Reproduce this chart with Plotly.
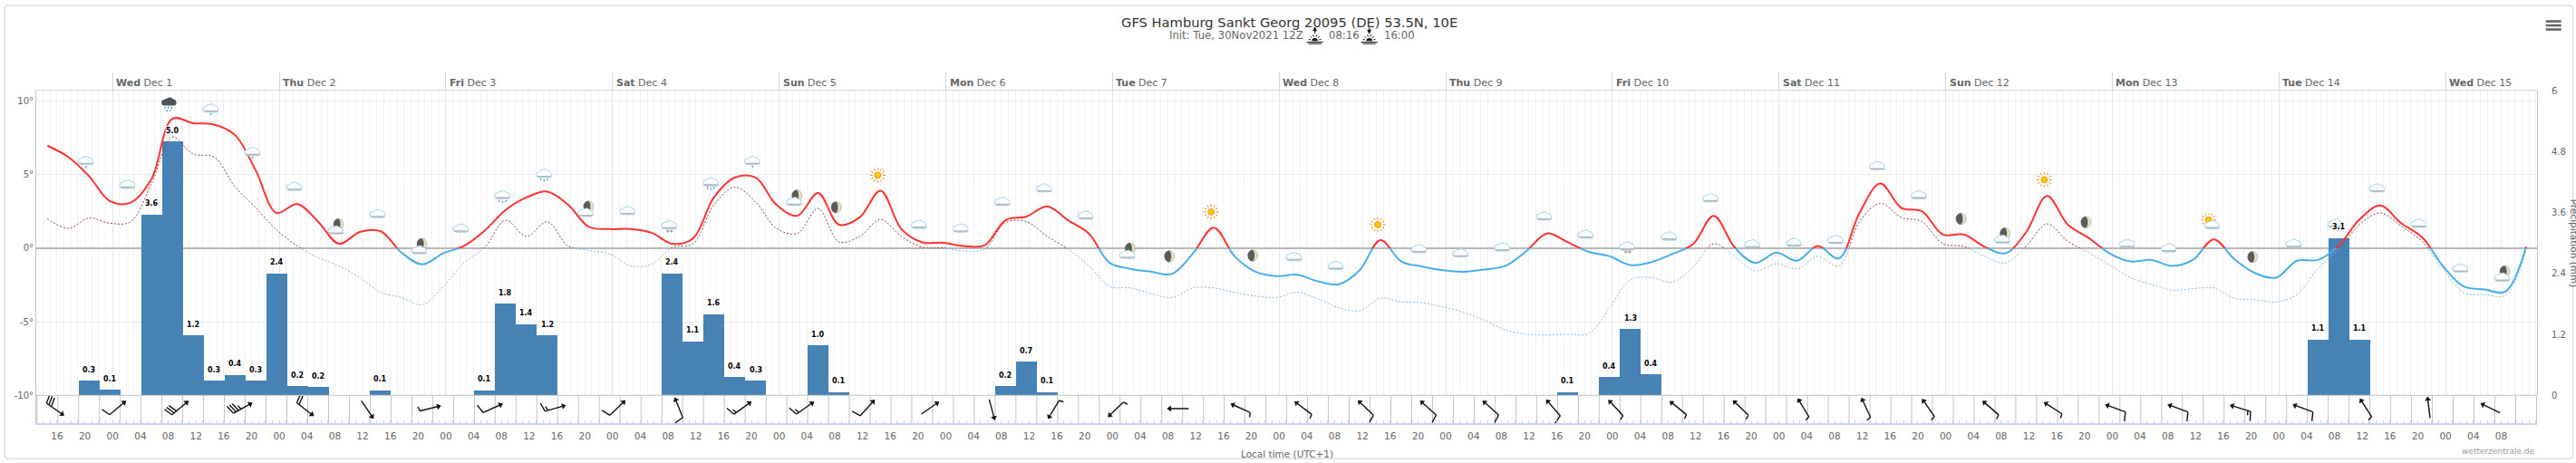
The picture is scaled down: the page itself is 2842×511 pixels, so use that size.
import base64
import math
import plotly.graph_objects as go

W, H = 2842, 511
FONT = "DejaVu Sans"

# temperature and dew point, one value every 3 hours (degrees C)
temp_c = [6.97, 6.2, 4.9, 3.2, 3.1, 4.7, 8.8, 8.5, 8.4, 7.7,
          5.3, 2.4, 3.0, 1.8, 0.3, 1.1, 1.15, -0.3, -1.1, -0.35,
          0.15, 1.2, 2.6, 3.45, 3.85, 2.95, 1.45, 1.3, 1.3, 1.05,
          0.3, 0.68, 3.45, 4.8, 4.8, 2.95, 2.2, 3.75, 1.6, 2.1,
          3.9, 1.3, 0.4, 0.37, 0.15, 0.2, 1.9, 2.15, 2.85, 1.9,
          1.0, -1.0, -1.4, -1.6, -1.75, -0.35, 1.4, -0.55, -1.6, -1.9,
          -1.8, -2.25, -2.45, -1.5, 0.55, -0.9, -1.25, -1.5, -1.6, -1.45,
          -1.2, -0.2, 1.0, 0.4, -0.25, -0.55, -1.15, -0.95, -0.4, 0.27,
          2.2, 0.06, -1.0, -0.3, -0.85, 0.15, -0.7, 2.4, 4.4, 2.75,
          2.5, 0.93, 0.93, 0.1, -0.35, 1.1, 3.55, 1.6, 0.7, -0.35,
          -0.9, -0.8, -1.2, -0.8, 0.6, -0.75, -1.7, -2.0, -0.85, -0.8,
          0.17, 1.95, 2.9, 1.7, 0.75, -1.2, -2.6, -2.8, -2.95, 0.1]
dew_c = [2.0, 1.35, 2.05, 1.7, 1.8, 4.4, 7.55, 6.4, 6.2, 4.2,
         2.75, 1.25, 0.15, -0.65, -1.2, -2.0, -3.0, -3.35, -3.85, -2.6,
         -1.0, 0.06, 1.9, 0.8, 1.8, 0.15, -0.15, -0.4, -1.2, -1.1,
         0.06, 0.3, 2.95, 4.15, 3.15, 1.35, 1.0, 2.7, 0.43, 0.8,
         1.95, 0.8, 0.06, 0.02, -0.2, -0.05, 1.75, 1.8, 0.8, -0.05,
         -1.2, -2.6, -2.7, -3.1, -3.35, -2.7, -2.7, -3.0, -3.25, -3.35,
         -3.0, -3.45, -4.05, -4.25, -3.4, -3.65, -3.7, -4.0, -4.35, -4.9,
         -5.55, -5.85, -5.9, -5.85, -5.8, -4.05, -2.15, -2.0, -2.3, -1.3,
         0.3, -0.55, -1.55, -1.05, -1.4, -0.55, -1.2, 1.8, 3.05, 2.1,
         1.8, 0.3, 0.12, -0.55, -1.0, 0.15, 1.65, 0.47, -0.3, -1.15,
         -2.0, -2.45, -2.85, -2.75, -2.7, -3.4, -3.5, -3.65, -3.15, -1.4,
         -0.05, 1.6, 2.4, 1.5, 0.47, -1.4, -3.0, -3.15, -3.2, -0.25]

# precipitation bars: hours since Dec 1 00:00 and mm
precip_hours = [-3.4, -0.4, 5.6, 8.6, 11.6, 14.6, 17.6, 20.6, 23.6, 26.6, 29.6, 38.6,
                53.6, 56.6, 59.6, 62.6, 80.6, 83.6, 86.6, 89.6, 92.6, 101.6, 104.6,
                128.6, 131.6, 134.6, 209.6, 215.6, 218.6, 221.6, 317.6, 320.6, 323.6]
precip_mm = [0.29, 0.11, 3.56, 5.0, 1.18, 0.29, 0.4, 0.29, 2.4, 0.18, 0.16, 0.1,
             0.1, 1.8, 1.4, 1.18, 2.4, 1.06, 1.6, 0.36, 0.29, 0.98, 0.06,
             0.18, 0.66, 0.06, 0.06, 0.36, 1.3, 0.41, 1.1, 3.1, 1.1]

# wind barbs every 9 hours: direction the wind comes from (deg), speed (kt)
wind_from = [305, 230, 230, 241, 308, 326, 256, 246, 254, 226,
             158, 234, 235, 222, 235, 345, 31, 46, 90, 114,
             127, 134, 132, 132, 139, 137, 129, 134, 149, 155,
             145, 131, 123, 110, 110, 107, 110, 147, 173, 116]
wind_kt = [30, 10, 30, 35, 20, 3, 5, 10, 15, 10,
           10, 15, 15, 10, 3, 3, 5, 5, 3, 5,
           5, 10, 10, 10, 10, 5, 5, 5, 5, 5,
           5, 5, 5, 10, 10, 15, 10, 5, 3, 3]

# weather symbols, one every 6 hours
icon_kind = ["rain1", "cloud", "heavy", "rain1", "rain1", "cloud", "mooncloud", "cloud", "mooncloud", "cloud",
             "rain2", "rain2", "mooncloud", "cloud", "snow", "rain2", "rain1", "mooncloud", "moon", "sun",
             "cloud", "cloud", "cloud", "cloud", "cloud", "mooncloud", "moon", "sun", "moon", "cloud",
             "cloud", "sun", "cloud", "cloud", "cloud", "cloud", "cloud", "snow", "cloud", "cloud",
             "cloud", "cloud", "cloud", "cloud", "cloud", "moon", "mooncloud", "sun", "moon", "cloud",
             "cloud", "suncloud", "moon", "cloud", "snow", "cloud", "cloud", "cloud", "mooncloud"]
icon_y = [5.93, 4.32, 9.83, 9.49, 6.54, 4.18, 1.4, 2.33, 0.06, 1.34,
          3.5, 4.96, 2.6, 2.53, 1.4, 4.38, 5.93, 3.35, 2.78, 4.96,
          1.6, 1.34, 3.15, 4.07, 2.22, -0.25, -0.55, 2.47, -0.5, -0.6,
          -1.2, 1.6, -0.06, -0.35, 0.06, 2.16, 0.93, -0.04, 0.8, 3.4,
          0.27, 0.37, 0.56, 5.58, 3.6, 2.0, 0.78, 4.65, 1.77, 0.3,
          0.0, 1.7, -0.6, 0.3, 1.5, 4.07, 1.67, -1.38, -1.8]

day_labels = ["<b>Wed</b> Dec 1", "<b>Thu</b> Dec 2", "<b>Fri</b> Dec 3", "<b>Sat</b> Dec 4", "<b>Sun</b> Dec 5",
              "<b>Mon</b> Dec 6", "<b>Tue</b> Dec 7", "<b>Wed</b> Dec 8", "<b>Thu</b> Dec 9", "<b>Fri</b> Dec 10",
              "<b>Sat</b> Dec 11", "<b>Sun</b> Dec 12", "<b>Mon</b> Dec 13", "<b>Tue</b> Dec 14", "<b>Wed</b> Dec 15"]
day_hours = [24 * d for d in range(len(day_labels))]

temp_hours = [-9.4 + 3 * k for k in range(len(temp_c))]
barb_hours = [-8.4 + 9 * k for k in range(len(wind_from))]
icon_hours = [-3.8 + 6 * k for k in range(len(icon_kind))]

time_ticks = list(range(-8, 345, 4))
time_text = [f"{t % 24:02d}" for t in time_ticks]

temp_ticks = [-10, -5, 0, 5, 10]
temp_text = ["-10°", "-5°", "0°", "5°", "10°"]
precip_ticks = [0, 1.2, 2.4, 3.6, 4.8, 6]
precip_text = ["0", "1.2", "2.4", "3.6", "4.8", "6"]

# plot geometry in pixels
LEFT, RIGHT = 40.4, 2799.3
TOP, MID, BOTTOM = 99.5, 436.0, 466.7
PX_PER_HOUR = 7.66
X_RANGE = [-11, (RIGHT - LEFT) / PX_PER_HOUR - 11]
TEMP_TOP = 10.71


def data_uri(body, box="0 0 40 40"):
    svg = f'<svg xmlns="http://www.w3.org/2000/svg" viewBox="{box}">{body}</svg>'
    return "data:image/svg+xml;base64," + base64.b64encode(svg.encode()).decode()


def cloud(dx=0, dy=0):
    return (f'<g transform="translate({dx} {dy})">'
            '<path d="M9 27a6 6 0 0 1 0-12a8 8 0 0 1 6-3a10 10 0 0 1 13 2a7 7 0 0 1 3 13z" '
            'fill="#fdfeff" stroke="#8fcdeb" stroke-width="1.6"/>'
            '<path d="M5 24h30v3h-30z" fill="#b4b8ba"/>'
            '<path d="M7 27.5h26v1h-26z" fill="#9bd3ee"/></g>')


def drops(points, color="#2f7fc0"):
    return "".join(f'<path d="M{x} {y}l-1 4" stroke="{color}" stroke-width="2"/>' for x, y in points)


def rays(cx, cy, inner, outer, angles, color, width):
    out = ""
    for a in angles:
        ca, sa = math.cos(math.radians(a)), math.sin(math.radians(a))
        out += (f'<path d="M{cx + inner * ca:.1f} {cy + inner * sa:.1f}L{cx + outer * ca:.1f} {cy + outer * sa:.1f}" '
                f'stroke="{color}" stroke-width="{width}"/>')
    return out


SUN = ('<circle cx="20" cy="20" r="6.5" fill="#ffc800" stroke="#f08000" stroke-width="1.5"/>'
       + rays(20, 20, 11, 16, range(0, 360, 30), "#f47a00", 1.8))
MOON = ('<ellipse cx="20" cy="20" rx="10.5" ry="12" fill="#e8e2c0" stroke="#777" stroke-width="0.8"/>'
        '<path d="M20 8a10.5 12 0 0 0 0 24a15 15 0 0 0 4 -12a15 15 0 0 0 -4 -12z" fill="#5a5a5a"/>')
icon_svg = {
    "cloud": cloud(),
    "rain1": cloud() + drops([(20, 30)]),
    "rain2": cloud(0, -3) + drops([(13, 27), (20, 29), (27, 27)]),
    "snow": cloud(0, -5) + '<text x="20" y="37" text-anchor="middle" font-size="16" fill="#777" font-family="DejaVu Sans">**</text>',
    "heavy": ('<path d="M9 24a6 6 0 0 1 0-12a8 8 0 0 1 6-3a10 10 0 0 1 13 2a7 7 0 0 1 3 13z" fill="#4c5156"/>'
              + drops([(11, 27), (18, 26), (25, 27), (15, 33), (22, 33)])),
    "sun": SUN,
    "moon": MOON,
    "mooncloud": f'<g transform="translate(5 -7)">{MOON}</g>' + cloud(0, 6),
    "suncloud": f'<g transform="translate(-5 -7)">{SUN}</g>' + cloud(3, 4),
}

sunrise_body = ('<path d="M1 34.5h38M5 38.5h30" stroke="#111" stroke-width="2.2"/>'
                '<path d="M13 32a7 7 0 0 1 14 0z" fill="#111"/>'
                + rays(20, 32, 10, 15, [195, 225, 255, 285, 315, 345], "#111", 2))
sun_up = data_uri(sunrise_body + '<path d="M20 14v-7M16.5 8l3.5-7l3.5 7z" stroke="#111" stroke-width="2.2" fill="#111"/>')
sun_down = data_uri(sunrise_body + '<path d="M20 1v7M16.5 7l3.5 7l3.5-7z" stroke="#111" stroke-width="2.2" fill="#111"/>')

# paper coordinates run over the plot area, not the whole page
fx = lambda px: (px - LEFT) / (RIGHT - LEFT)
fy = lambda py: (BOTTOM - py) / (BOTTOM - TOP)

band_top = (BOTTOM - MID) / (BOTTOM - TOP)
zero_frac = band_top + (1 - band_top) * 10 / (TEMP_TOP + 10)

fig = go.Figure()

# bars sit below the temperature lines, lines are clipped at 0 by their two axes
fig.add_trace(go.Bar(x=precip_hours, y=precip_mm, width=3, marker=dict(color="#4682B4", line_width=0),
                     xaxis="x2", yaxis="y2", showlegend=False))
for yaxis, line_col, dew_col in [("y3", "#FF3333", "#8f4545"), ("y4", "#48AFE8", "#8db6e4")]:
    fig.add_trace(go.Scatter(x=temp_hours, y=dew_c, mode="lines", xaxis="x2", yaxis=yaxis, showlegend=False,
                             line=dict(color=dew_col, width=1, dash="2px,2px", shape="spline")))
    fig.add_trace(go.Scatter(x=temp_hours, y=temp_c, mode="lines", xaxis="x2", yaxis=yaxis, showlegend=False,
                             line=dict(color=line_col, width=2, shape="spline")))

# cell separators of the wind band
sep_x, sep_y = [], []
for k in range(-2, 119):
    sep_x += [-4.9 + 3 * k, -4.9 + 3 * k, None]
    sep_y += [0, BOTTOM - MID, None]
fig.add_trace(go.Scatter(x=sep_x, y=sep_y, mode="lines", xaxis="x3", yaxis="y5", showlegend=False,
                         line=dict(color="#c4c4c4", width=1)))

# wind barbs, y5 runs in pixels so lengths can be worked out directly
barb_x, barb_y, head_x, head_y, head_a = [], [], [], [], []
SHAFT = 21
for hour, origin, speed in zip(barb_hours, wind_from, wind_kt):
    bearing = math.radians((origin + 180) % 360)
    ux, uy = math.sin(bearing), math.cos(bearing)
    cy = 16.0
    tail = (-ux * SHAFT / 2, -uy * SHAFT / 2)
    tip = (ux * SHAFT / 2, uy * SHAFT / 2)
    barb_x += [hour + tail[0] / PX_PER_HOUR, hour + tip[0] / PX_PER_HOUR, None]
    barb_y += [cy + tail[1], cy + tip[1], None]
    head_x.append(hour + tip[0] / PX_PER_HOUR)
    head_y.append(cy + tip[1])
    head_a.append((origin + 180) % 360)
    # feathers hang off the left of the flow, full ones every 10 kt
    left = (-uy, ux)
    remaining, along = speed, 0.0
    while remaining >= 5:
        size = 10 if remaining >= 10 else 5
        bx, by = tail[0] + ux * along, tail[1] + uy * along
        ex = bx + left[0] * size - ux * size * 0.25
        ey = by + left[1] * size - uy * size * 0.25
        barb_x += [hour + bx / PX_PER_HOUR, hour + ex / PX_PER_HOUR, None]
        barb_y += [cy + by, cy + ey, None]
        remaining -= size
        along += 3.2
fig.add_trace(go.Scatter(x=barb_x, y=barb_y, mode="lines", xaxis="x3", yaxis="y5", showlegend=False,
                         line=dict(color="#111111", width=1.4)))
fig.add_trace(go.Scatter(x=head_x, y=head_y, mode="markers", xaxis="x3", yaxis="y5", showlegend=False,
                         marker=dict(symbol="triangle-up", size=6, color="#111111", angle=head_a, line_width=0)))

annotations = []
for hour, label in zip(day_hours, day_labels):
    annotations.append(dict(x=hour, y=fy(91), xref="x", yref="paper", text=label, showarrow=False,
                            xanchor="left", yanchor="middle", xshift=2,
                            font=dict(family=FONT, size=11, color="#666666")))
halo = "1px 1px 1px #fff, -1px -1px 1px #fff, 1px -1px 1px #fff, -1px 1px 1px #fff"
for hour, value in zip(precip_hours, precip_mm):
    annotations.append(dict(x=hour, y=value, xref="x2", yref="y2", text=f"<b>{value:.1f}</b>", showarrow=False,
                            yanchor="middle", yshift=12,
                            font=dict(family=FONT, size=8, color="#000000", shadow=halo)))


def paper_text(px, py, text, size, color, anchor="center", angle=0):
    annotations.append(dict(x=fx(px), y=fy(py), xref="paper", yref="paper", text=text, showarrow=False,
                            xanchor=anchor, yanchor="middle", textangle=angle,
                            font=dict(family=FONT, size=size, color=color)))


paper_text(1423, 24, "GFS Hamburg Sankt Georg 20095 (DE) 53.5N, 10E", 14.7, "#333333")
paper_text(1288, 38, "Init: Tue, 30Nov2021 12Z", 11.7, "#666666", "left")
paper_text(1464, 38, "08:16", 11.7, "#666666", "left")
paper_text(1525, 38, "16:00", 11.7, "#666666", "left")
paper_text(1420, 501, "Local time (UTC+1)", 10.5, "#666666")
paper_text(2799, 498, "wetterzentrale.de", 9, "#999999", "right")
# the reference cuts this title at the page edge
paper_text(2840, 268, "Precipitation (mm)", 10.5, "#666666", angle=90)

images = [dict(source=data_uri(icon_svg[kind]), xref="x", yref="y", x=hour, y=value,
               sizex=21 / PX_PER_HOUR, sizey=21 / 16.25, xanchor="center", yanchor="middle",
               sizing="contain", layer="above")
          for hour, value, kind in zip(icon_hours, icon_y, icon_kind)]
for cx, src in [(1451, sun_up), (1511, sun_down)]:
    images.append(dict(source=src, xref="paper", yref="paper", x=fx(cx), y=fy(39),
                       sizex=19 / (RIGHT - LEFT), sizey=19 / (BOTTOM - TOP),
                       xanchor="center", yanchor="middle", layer="above"))

# rounded outer frame and the export menu
fl, fr, ft, fb, rad = 5.5, 2839, 5.5, 506, 5
frame = (f"M {fx(fl + rad)} {fy(ft)} L {fx(fr - rad)} {fy(ft)} Q {fx(fr)} {fy(ft)} {fx(fr)} {fy(ft + rad)} "
         f"L {fx(fr)} {fy(fb - rad)} Q {fx(fr)} {fy(fb)} {fx(fr - rad)} {fy(fb)} "
         f"L {fx(fl + rad)} {fy(fb)} Q {fx(fl)} {fy(fb)} {fx(fl)} {fy(fb - rad)} "
         f"L {fx(fl)} {fy(ft + rad)} Q {fx(fl)} {fy(ft)} {fx(fl + rad)} {fy(ft)} Z")
shapes = [dict(type="path", path=frame, xref="paper", yref="paper", line=dict(color="#dfdfdf", width=1.5), layer="below"),
          dict(type="line", xref="paper", yref="paper", x0=fx(LEFT), x1=fx(RIGHT), y0=fy(MID), y1=fy(MID),
               line=dict(color="#c4c4c4", width=1), layer="above")]
for py in (23, 27.5, 32):
    shapes.append(dict(type="line", xref="paper", yref="paper", x0=fx(2809), x1=fx(2826), y0=fy(py), y1=fy(py),
                       line=dict(color="#666666", width=2.6)))

tick_font = dict(family=FONT, size=10, color="#666666")
main_bottom = band_top
hidden = dict(visible=False, fixedrange=True)
fig.update_layout(
    width=W, height=H, margin=dict(l=LEFT, r=W - RIGHT, t=TOP, b=H - BOTTOM, pad=0, autoexpand=False),
    paper_bgcolor="#ffffff", plot_bgcolor="rgba(0,0,0,0)", showlegend=False, bargap=0,
    annotations=annotations, images=images, shapes=shapes,
    xaxis=dict(range=X_RANGE, anchor="y", side="top", tickmode="array", tickvals=day_hours, ticktext=[""] * len(day_hours),
               ticks="outside", ticklen=19.5, tickcolor="#ccd6eb", showgrid=True, gridcolor="#e6e6e6", gridwidth=1,
               showline=True, linecolor="#ccd6eb", zeroline=False,
               minor=dict(tickmode="linear", tick0=0, dtick=1, showgrid=True, gridcolor="#f2f2f2", ticks="")),
    xaxis2=dict(range=X_RANGE, anchor="y2", **hidden),
    xaxis3=dict(range=X_RANGE, anchor="y5", tickmode="array", tickvals=time_ticks, ticktext=time_text,
                ticks="inside", ticklen=3, tickcolor="#ccd6eb", showgrid=False, zeroline=False,
                showline=True, linecolor="#ccd6eb", linewidth=1.5, tickfont=dict(family=FONT, size=10.5, color="#666666"),
                ticklabelstandoff=4,
                minor=dict(tickmode="linear", tick0=0, dtick=1, ticks="inside", ticklen=3, tickcolor="#ccd6eb", showgrid=False)),
    yaxis=dict(domain=[main_bottom, 1], range=[-10, TEMP_TOP], anchor="x", tickmode="array", tickvals=temp_ticks,
               ticktext=temp_text, tickfont=tick_font, showgrid=True, gridcolor="#ececec", zeroline=True,
               zerolinecolor="#b8b8b8", zerolinewidth=1.5, showline=True, linecolor="#c4c4c4", ticks=""),
    yaxis2=dict(domain=[main_bottom, 1], range=[0, 6], anchor="x2", side="right", tickmode="array", tickvals=precip_ticks,
                ticktext=precip_text, tickfont=tick_font, showgrid=False, zeroline=False, showline=True,
                linecolor="#c4c4c4", ticks="", ticklabelstandoff=13),
    yaxis3=dict(domain=[zero_frac, 1], range=[0, TEMP_TOP], anchor="x2", **hidden),
    yaxis4=dict(domain=[main_bottom, zero_frac], range=[-10, 0], anchor="x2", **hidden),
    yaxis5=dict(domain=[0, band_top], range=[0, BOTTOM - MID], anchor="x3", showgrid=False, zeroline=False,
                showticklabels=False, ticks="", showline=True, linecolor="#c4c4c4"),
)

fig.write_html("out.html", config=dict(displayModeBar=False), post_script="document.body.style.margin='0';")
